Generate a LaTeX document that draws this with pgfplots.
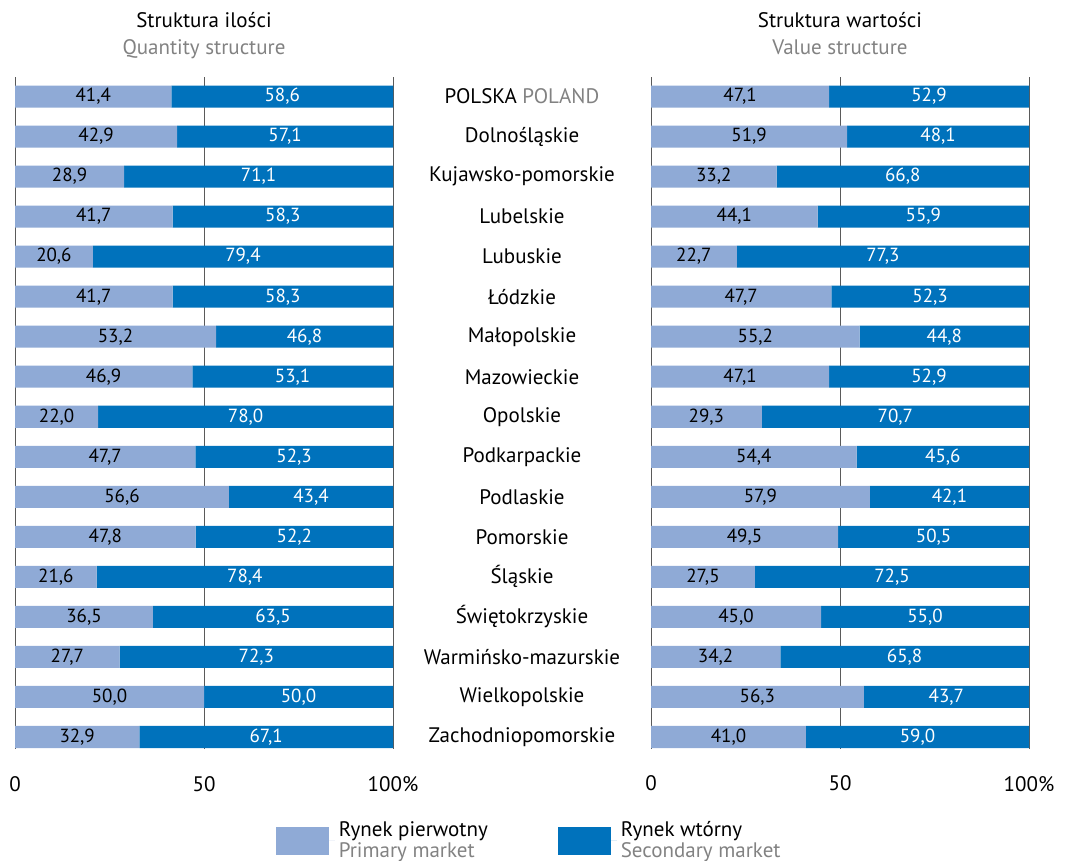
\documentclass[border=0pt]{standalone}
\usepackage{pgfplots}
\pgfplotsset{compat=1.18}
\usepackage{pgfplotstable}
\usepackage{fontspec}
\setmainfont{PT Sans}
\definecolor{prim}{RGB}{143,170,214}
\definecolor{sec}{RGB}{0,114,188}
\definecolor{gridc}{RGB}{90,90,90}
\definecolor{subg}{RGB}{130,130,130}

\pgfplotstableread{
i qp qs vp vs
0 41.4 58.6 47.1 52.9
1 42.9 57.1 51.9 48.1
2 28.9 71.1 33.2 66.8
3 41.7 58.3 44.1 55.9
4 20.6 79.4 22.7 77.3
5 41.7 58.3 47.7 52.3
6 53.2 46.8 55.2 44.8
7 46.9 53.1 47.1 52.9
8 22.0 78.0 29.3 70.7
9 47.7 52.3 54.4 45.6
10 56.6 43.4 57.9 42.1
11 47.8 52.2 49.5 50.5
12 21.6 78.4 27.5 72.5
13 36.5 63.5 45.0 55.0
14 27.7 72.3 34.2 65.8
15 50.0 50.0 56.3 43.7
16 32.9 67.1 41.0 59.0
}\data

\pgfplotsset{
  mystyle/.style={
    xbar stacked, scale only axis, width=189bp, height=336bp,
    xmin=0, xmax=100, ymin=-0.4875, ymax=16.3, y dir=reverse,
    bar width=0.55,
    axis line style={draw=none},
    major tick length=0,
    xmajorgrids, grid style={gridc, line width=0.5bp},
    xtick={0,50,100}, xticklabels={0,50,100\%},
    /pgf/number format/assume math mode=true,
    tick label style={font=\fontsize{10.5bp}{12bp}\selectfont},
    xticklabel style={yshift=-10bp},
    title style={align=center, font=\fontsize{10.5bp}{13.5bp}\selectfont, yshift=-2.5bp},
    point meta=explicit,
    nodes near coords={\pgfmathprintnumber[fixed,fixed zerofill,precision=1,use comma]{\pgfplotspointmeta}},
    every node near coord/.append style={font=\fontsize{9.5bp}{11bp}\selectfont},
  },
}

\begin{document}
\begin{tikzpicture}
\path[use as bounding box] (0,0) rectangle (533bp,430.5bp);
\begin{axis}[mystyle, at={(7.5bp,56bp)}, anchor=south west,
  title={Struktura ilości\strut\\{\color{subg}Quantity structure}\strut},
  ytick={0,...,16},
  yticklabel pos=right,
  yticklabels={POLSKA {\color{subg}POLAND},Dolnośląskie,Kujawsko-pomorskie,Lubelskie,Lubuskie,Łódzkie,Małopolskie,Mazowieckie,Opolskie,Podkarpackie,Podlaskie,Pomorskie,Śląskie,Świętokrzyskie,Warmińsko-mazurskie,Wielkopolskie,Zachodniopomorskie},
  yticklabel style={anchor=center, xshift=64.5bp},
  legend columns=2,
  legend cell align=left,
  legend style={draw=none, fill=none, at={(axis description cs:0.673,-0.095)}, anchor=north west,
    cells={align=left}, font=\fontsize{10.5bp}{10.5bp}\selectfont,
    /tikz/every even column/.append style={column sep=33bp}},
  legend image code/.code={\fill[#1] (0bp,-7bp) rectangle (26.5bp,7bp); \path (26.5bp,0bp) -- (29.5bp,0bp);},
]
\addplot[fill=prim, draw=none] table[x=qp, y=i, meta=qp] {\data};
\addplot[fill=sec, draw=none, every node near coord/.append style={text=white}] table[x=qs, y=i, meta=qs] {\data};
\legend{Rynek pierwotny\\{\color{subg}Primary market}, Rynek wtórny\\{\color{subg}Secondary market}}
\end{axis}
\begin{axis}[mystyle, at={(325.5bp,56bp)}, anchor=south west,
  title={Struktura wartości\strut\\{\color{subg}Value structure}\strut},
  ytick=\empty,
]
\addplot[fill=prim, draw=none] table[x=vp, y=i, meta=vp] {\data};
\addplot[fill=sec, draw=none, every node near coord/.append style={text=white}] table[x=vs, y=i, meta=vs] {\data};
\end{axis}
\end{tikzpicture}
\end{document}
